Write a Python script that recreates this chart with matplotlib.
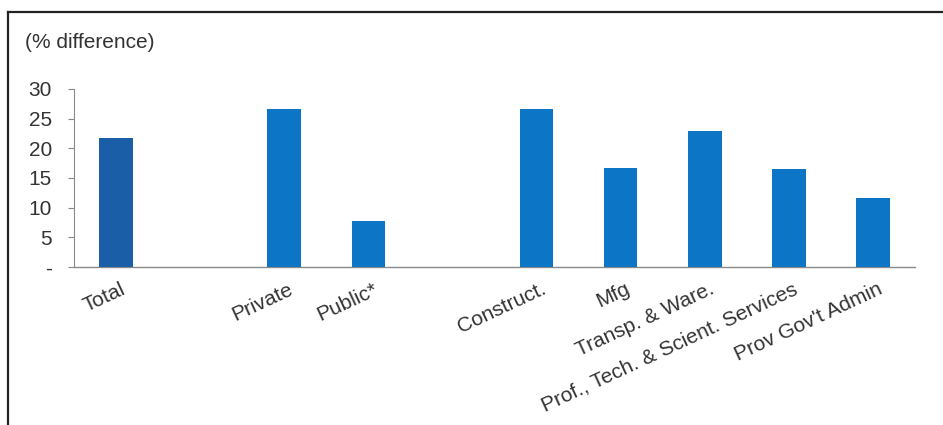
import matplotlib.pyplot as plt
import matplotlib.transforms as mtransforms
from matplotlib.lines import Line2D
import numpy as np

plt.rcParams['font.family'] = ['Liberation Sans', 'DejaVu Sans']

# '' entries are the empty slots between groups
categories = ['Total', '', 'Private', 'Public*', '', 'Construct.', 'Mfg',
              'Transp. & Ware.', 'Prof., Tech. & Scient. Services', "Prov Gov't Admin"]
values = [21.8, None, 26.6, 7.8, None, 26.6, 16.7, 23.0, 16.5, 11.7]
yticks = [0, 5, 10, 15, 20, 25, 30]
ytick_labels = ['-', '5', '10', '15', '20', '25', '30']

text_col = '#333333'
fig = plt.figure(figsize=(9.43, 4.25), dpi=100)
ax = fig.add_axes([0.0785, 0.3718, 0.8918, 0.4188])

pos = np.arange(len(categories))
for p, v in zip(pos, values):
    if v is None:
        continue
    col = '#1b5ea8' if p == 0 else '#0c75c5'
    ax.bar(p, v, width=0.4, color=col, zorder=3)

ax.set_xlim(-0.5, len(categories) - 0.5)
ax.set_ylim(0, 30)
ax.set_yticks(yticks, ytick_labels)
ax.set_xticks(pos, categories, rotation=25, ha='right', rotation_mode='anchor')
ax.tick_params(axis='x', length=0, pad=9, labelsize=15, labelcolor=text_col)
ax.tick_params(axis='y', length=4, width=0.8, color='#888888', pad=12,
               labelsize=15, labelcolor=text_col)
off = mtransforms.ScaledTranslation(4 / 100, 0, fig.dpi_scale_trans)
for lab in ax.get_xticklabels():
    lab.set_transform(lab.get_transform() + off)

for s in ['top', 'right']:
    ax.spines[s].set_visible(False)
ax.spines['left'].set_color('#8a8a8a')
ax.spines['left'].set_linewidth(0.8)
ax.spines['bottom'].set_color('#8a8a8a')
ax.spines['bottom'].set_linewidth(1.0)

fig.text(0.0265, 0.901, '(% difference)', fontsize=15, color=text_col, va='center')

# frame of the scanned box
fig.add_artist(Line2D([0.0085, 0.0085], [0.0, 0.972], color='#222222', lw=1.6))
fig.add_artist(Line2D([0.0085, 1.0], [0.972, 0.972], color='#222222', lw=1.6))

fig.savefig('out.png', dpi=100)
